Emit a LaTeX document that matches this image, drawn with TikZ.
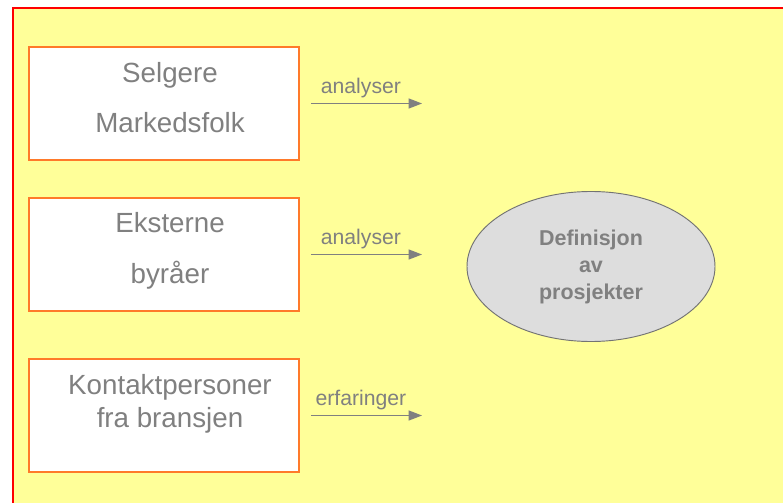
\documentclass[tikz,border=0pt]{standalone}
\usepackage{fontspec}
\setmainfont{Liberation Sans}
\usetikzlibrary{arrows.meta,positioning,shapes.geometric}

\definecolor{gul}{HTML}{FFFF99}
\definecolor{oransje}{HTML}{FF7A2A}
\definecolor{graatekst}{HTML}{808080}
\definecolor{lysgraa}{HTML}{DDDDDD}

\begin{document}
\begin{tikzpicture}[
    x=0.75pt, y=-0.75pt,
    >={Triangle[length=10pt,width=7.5pt]},
    boks/.style={draw=oransje,line width=1.3pt,fill=white,inner sep=0pt,
        minimum width=202.5pt,minimum height=84.75pt},
    tekst/.style={text=graatekst,anchor=base,inner sep=0pt,
        font=\fontsize{20.8}{25}\selectfont},
    pil/.style={->,draw=graatekst,line width=0.8pt,shorten <=8.25pt},
    etikett/.style={text=graatekst,anchor=base,inner sep=0pt,yshift=7.5pt,
        font=\fontsize{15.9}{19}\selectfont}
]
\useasboundingbox (0,0) rectangle (783,503);

%------------------------------------------------
% Bakgrunn
%------------------------------------------------
\fill[gul] (13,8) rectangle (783,503);
\draw[red,line width=1.3pt] (783,8) -- (13,8) -- (13,503);

%------------------------------------------------
% Kilder
%------------------------------------------------
\foreach \y/\navn in {103.5/sel,254.5/eks,415.5/kon}
{
    \node[boks] (\navn) at (164,\y) {};
}

\node[tekst] (sel1) at (170,83) {Selgere};
\node[tekst] (sel2) at (170,133) {Markedsfolk};
\node[tekst] (eks1) at (170,233) {Eksterne};
\node[tekst] (eks2) at (170,283) {byråer};
\node[tekst] (kon1) at (170,394) {Kontaktpersoner};
\node[tekst] (kon2) at (170,427) {fra bransjen};

%------------------------------------------------
% Mål
%------------------------------------------------
\node[ellipse,draw=graatekst!90!black,line width=0.7pt,fill=lysgraa,
    minimum width=186pt,minimum height=112.5pt,inner sep=0pt,
    align=center,text=graatekst,
    font=\bfseries\fontsize{16.1}{20.25}\selectfont]
    (def) at (591,266.5) {Definisjon\\av\\prosjekter};

%------------------------------------------------
% Piler
%------------------------------------------------
\coordinate (p1) at (422,103.5);
\coordinate (p2) at (422,254.5);
\coordinate (p3) at (422,415.5);

\draw[pil] (sel.east) -- node[etikett]{analyser} (p1);
\draw[pil] (eks.east) -- node[etikett]{analyser} (p2);
\draw[pil] (kon.east) -- node[etikett]{erfaringer} (p3);

\end{tikzpicture}
\end{document}
